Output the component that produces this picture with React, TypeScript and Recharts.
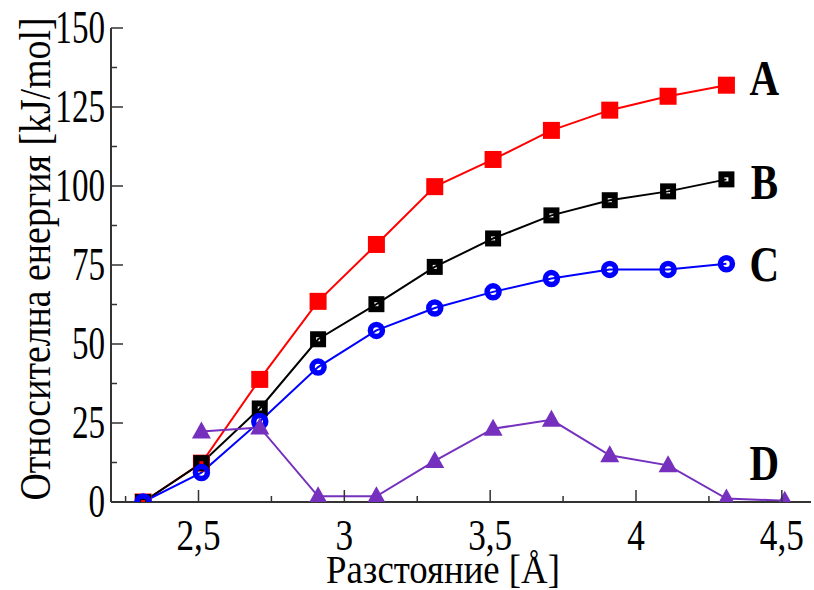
import React from "react";
import { LineChart, Line, XAxis, YAxis, ReferenceDot } from "recharts";

// distance [Å]
const distance = [2.31, 2.51, 2.71, 2.91, 3.11, 3.31, 3.51, 3.71, 3.91, 4.11, 4.31, 4.51];
// relative energy [kJ/mol]
const seriesA = [0, 12.3, 38.8, 63.5, 81.5, 99.8, 108.4, 117.6, 124, 128.4, 131.9, null];
const seriesB = [0, 12.3, 29.6, 51.5, 62.6, 74.4, 83.4, 90.7, 95.5, 98.3, 102.1, null];
const seriesC = [0, 9.3, 25.5, 42.7, 54.3, 61.4, 66.5, 70.7, 73.6, 73.6, 75.4, null];
const seriesD = [null, 22.3, 23.6, 1.8, 1.8, 13, 23.2, 26, 14.8, 11.6, 1.1, 0.4];

const xTicks = [2.25, 2.5, 2.75, 3, 3.25, 3.5, 3.75, 4, 4.25, 4.5];
const yTicks = [0, 12.5, 25, 37.5, 50, 62.5, 75, 87.5, 100, 112.5, 125, 137.5, 150];

const tagNames = ["A", "B", "C", "D"];
const tagX = [4.44, 4.44, 4.44, 4.44];
const tagY = [134.2, 101.3, 75.3, 12.3];

const data = distance.map((x, i) => ({
  x,
  a: seriesA[i],
  b: seriesB[i],
  c: seriesC[i],
  d: seriesD[i],
}));

const FONT = "'Liberation Serif', 'Times New Roman', serif";
const AXIS = "#333";
const RED = "#ff0000";
const BLUE = "#0000ff";
const PURPLE = "#7530bd";

const isMajor = (v: number, step: number) => Math.abs(v / step - Math.round(v / step)) < 1e-6;
const fmtX = (v: number) => String(v).replace(".", ",");

function BottomTick({ x, y, payload }: any) {
  const major = isMajor(payload.value, 0.5);
  return (
    <g>
      <line x1={x} x2={x} y1={y} y2={y - (major ? 12 : 6)} stroke={AXIS} strokeWidth={1.5} />
      {major && (
        <text
          transform={`translate(${x},${y + 33}) scale(0.8,1)`}
          textAnchor="middle"
          dominantBaseline="central"
          fontFamily={FONT}
          fontSize={44}
          fill="#000"
        >
          {fmtX(payload.value)}
        </text>
      )}
    </g>
  );
}

function TopTick({ x, y, payload }: any) {
  const major = isMajor(payload.value, 0.5);
  return <line x1={x} x2={x} y1={y} y2={y + (major ? 12 : 6)} stroke={AXIS} strokeWidth={1.5} />;
}

function LeftTick({ x, y, payload }: any) {
  const major = isMajor(payload.value, 25);
  return (
    <g>
      <line x1={x} x2={x + (major ? 12 : 6)} y1={y} y2={y} stroke={AXIS} strokeWidth={1.5} />
      {major && (
        <text
          transform={`translate(${x - 6},${y}) scale(0.72,1)`}
          textAnchor="end"
          dominantBaseline="central"
          fontFamily={FONT}
          fontSize={46}
          fill="#000"
        >
          {payload.value}
        </text>
      )}
    </g>
  );
}

function RightTick({ x, y, payload }: any) {
  const major = isMajor(payload.value, 25);
  return <line x1={x} x2={x - (major ? 12 : 6)} y1={y} y2={y} stroke={AXIS} strokeWidth={1.5} />;
}

function RedSquare({ cx, cy, index }: any) {
  if (cx == null || cy == null) return <g key={index} />;
  return <rect key={index} x={cx - 8.5} y={cy - 8.5} width={17} height={17} fill={RED} />;
}

function BlackSquare({ cx, cy, index }: any) {
  if (cx == null || cy == null) return <g key={index} />;
  return <rect key={index} x={cx - 5} y={cy - 5} width={10} height={10} fill="none" stroke="#000" strokeWidth={6} />;
}

function BlueRing({ cx, cy, index }: any) {
  if (cx == null || cy == null) return <g key={index} />;
  return <circle key={index} cx={cx} cy={cy} r={6} fill="none" stroke={BLUE} strokeWidth={5.5} />;
}

function PurpleTriangle({ cx, cy, index }: any) {
  if (cx == null || cy == null) return <g key={index} />;
  return (
    <polygon
      key={index}
      points={`${cx},${cy - 10} ${cx + 9.5},${cy + 7} ${cx - 9.5},${cy + 7}`}
      fill={PURPLE}
    />
  );
}

function Tag({ cx, cy, name }: any) {
  return (
    <text
      transform={`translate(${cx},${cy}) scale(0.82,1)`}
      textAnchor="middle"
      dominantBaseline="central"
      fontFamily={FONT}
      fontWeight="bold"
      fontSize={50}
      fill="#000"
    >
      {name}
    </text>
  );
}

export default function App() {
  return (
    <div style={{ position: "absolute", left: 0, top: 0, background: "#fff" }}>
      <LineChart width={814} height={590} data={data} margin={{ top: 28, right: 3, left: 0, bottom: 0 }}>
        <XAxis
          dataKey="x"
          type="number"
          domain={[2.2, 4.6]}
          ticks={xTicks}
          interval={0}
          height={88}
          tickSize={0}
          tickMargin={0}
          tick={<BottomTick />}
          axisLine={{ stroke: AXIS, strokeWidth: 2 }}
          allowDataOverflow
          label={{
            content: () => (
              <text
                transform="translate(443,569) scale(0.92,1)"
                textAnchor="middle"
                dominantBaseline="central"
                fontFamily={FONT}
                fontSize={40}
                fill="#000"
              >
                Разстояние [Å]
              </text>
            ),
          }}
        />
        <XAxis
          xAxisId="top"
          dataKey="x"
          type="number"
          orientation="top"
          domain={[2.2, 4.6]}
          ticks={xTicks}
          interval={0}
          height={0}
          tickSize={0}
          tickMargin={0}
          tick={<TopTick />}
          axisLine={{ stroke: AXIS, strokeWidth: 2 }}
          allowDataOverflow
        />
        <YAxis
          type="number"
          domain={[0, 150]}
          ticks={yTicks}
          interval={0}
          width={111}
          tickSize={0}
          tickMargin={0}
          tick={<LeftTick />}
          axisLine={{ stroke: AXIS, strokeWidth: 2 }}
          allowDataOverflow
          label={{
            content: () => (
              <text
                transform="translate(35,259) rotate(-90) scale(0.86,1)"
                textAnchor="middle"
                dominantBaseline="central"
                fontFamily={FONT}
                fontSize={44}
                fill="#000"
              >
                Относителна енергия [kJ/mol]
              </text>
            ),
          }}
        />
        <YAxis
          yAxisId="right"
          orientation="right"
          type="number"
          domain={[0, 150]}
          ticks={yTicks}
          interval={0}
          width={0}
          tickSize={0}
          tickMargin={0}
          tick={<RightTick />}
          axisLine={{ stroke: AXIS, strokeWidth: 2 }}
          allowDataOverflow
        />
        <Line dataKey="a" stroke={RED} strokeWidth={2} dot={RedSquare} isAnimationActive={false} />
        <Line dataKey="b" stroke="#000" strokeWidth={2} dot={BlackSquare} isAnimationActive={false} />
        <Line dataKey="c" stroke={BLUE} strokeWidth={2} dot={BlueRing} isAnimationActive={false} />
        <Line dataKey="d" stroke={PURPLE} strokeWidth={2} dot={PurpleTriangle} isAnimationActive={false} />
        {tagNames.map((name, i) => (
          <ReferenceDot
            key={name}
            x={tagX[i]}
            y={tagY[i]}
            r={0}
            shape={(p: any) => <Tag cx={p.cx} cy={p.cy} name={name} />}
          />
        ))}
      </LineChart>
    </div>
  );
}
